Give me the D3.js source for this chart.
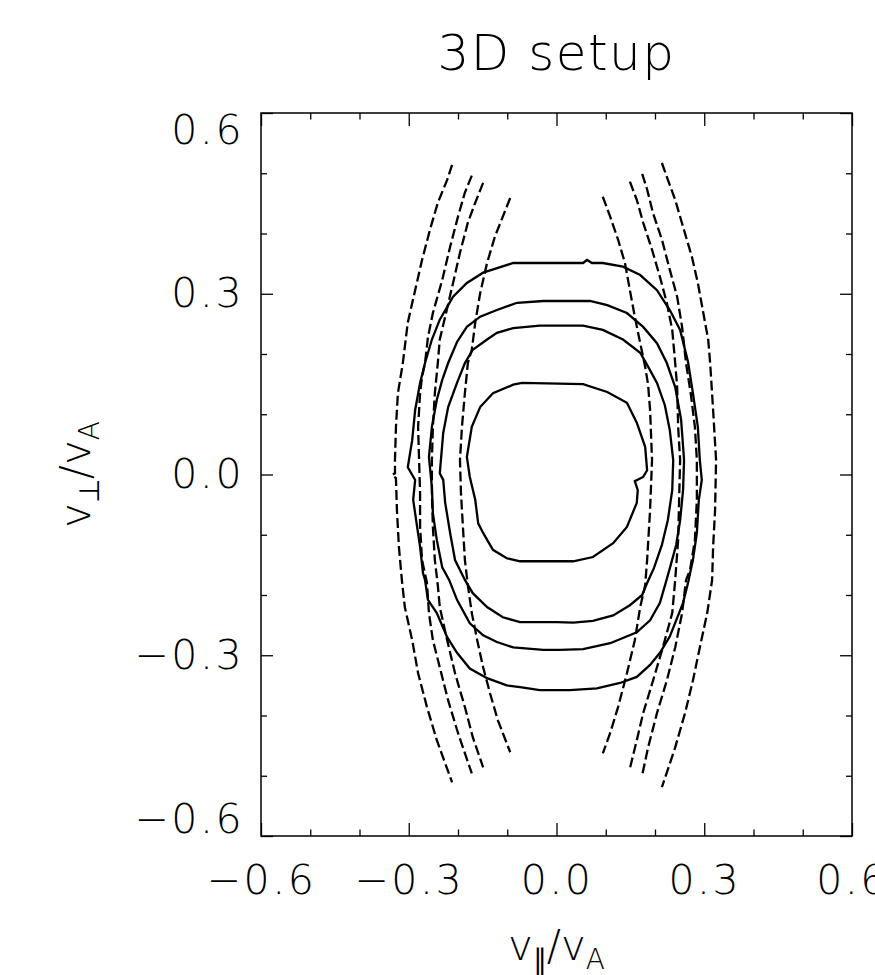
<!DOCTYPE html>
<html>
<head>
<meta charset="utf-8">
<script src="https://cdn.jsdelivr.net/npm/d3@7"></script>
<style>
  body { margin: 0; background: #fff; }
  text { font-family: "DejaVu Sans", "Liberation Sans", sans-serif; font-weight: 200; fill: #000; }
</style>
</head>
<body>
<svg id="drawing_region"></svg>
<script>
// axis ticks (v_par / v_A and v_perp / v_A)
const majorTicks = [-0.6, -0.3, 0.0, 0.3, 0.6];
const minorTicks = [-0.5, -0.4, -0.2, -0.1, 0.1, 0.2, 0.4, 0.5];

// solid contours, inner to outer, [v_par, v_perp]
const solid1 = [[-0.070,0.152],[0.054,0.150],[0.103,0.137],[0.143,0.119],[0.163,0.086],[0.180,0.046],[0.184,0.007],[0.176,-0.004],[0.159,-0.011],[0.165,-0.026],[0.163,-0.047],[0.143,-0.087],[0.115,-0.114],[0.074,-0.137],[0.034,-0.144],[-0.074,-0.144],[-0.101,-0.139],[-0.129,-0.125],[-0.149,-0.097],[-0.159,-0.081],[-0.165,-0.042],[-0.176,-0.004],[-0.182,0.029],[-0.172,0.079],[-0.155,0.112],[-0.129,0.135],[-0.088,0.149]];
const solid2 = [[-0.034,0.247],[0.054,0.247],[0.094,0.240],[0.135,0.224],[0.170,0.202],[0.186,0.179],[0.204,0.152],[0.220,0.115],[0.230,0.074],[0.237,0.024],[0.235,-0.026],[0.226,-0.076],[0.214,-0.117],[0.198,-0.155],[0.184,-0.180],[0.174,-0.200],[0.149,-0.217],[0.115,-0.234],[0.074,-0.243],[0.034,-0.246],[0.001,-0.245],[-0.074,-0.245],[-0.109,-0.237],[-0.141,-0.220],[-0.170,-0.197],[-0.186,-0.175],[-0.206,-0.142],[-0.216,-0.097],[-0.226,-0.047],[-0.230,-0.009],[-0.237,0.002],[-0.230,0.069],[-0.220,0.112],[-0.202,0.152],[-0.186,0.185],[-0.170,0.207],[-0.141,0.224],[-0.121,0.235],[-0.088,0.243]];
const solid3 = [[-0.027,0.288],[0.068,0.288],[0.103,0.281],[0.143,0.268],[0.176,0.245],[0.204,0.218],[0.224,0.185],[0.241,0.145],[0.253,0.091],[0.259,0.024],[0.257,-0.026],[0.251,-0.076],[0.243,-0.117],[0.232,-0.150],[0.222,-0.179],[0.210,-0.213],[0.190,-0.242],[0.163,-0.262],[0.109,-0.280],[0.054,-0.290],[0.007,-0.291],[-0.027,-0.291],[-0.088,-0.287],[-0.121,-0.278],[-0.149,-0.267],[-0.176,-0.247],[-0.202,-0.208],[-0.218,-0.175],[-0.232,-0.154],[-0.243,-0.109],[-0.251,-0.064],[-0.253,-0.021],[-0.259,0.029],[-0.253,0.079],[-0.243,0.124],[-0.232,0.157],[-0.220,0.185],[-0.202,0.220],[-0.182,0.245],[-0.155,0.262],[-0.121,0.273],[-0.080,0.285]];
const solid4 = [[-0.088,0.351],[0.027,0.351],[0.054,0.351],[0.062,0.356],[0.072,0.351],[0.094,0.351],[0.135,0.345],[0.170,0.331],[0.204,0.306],[0.230,0.273],[0.251,0.240],[0.267,0.187],[0.277,0.135],[0.287,0.079],[0.291,0.024],[0.295,-0.009],[0.289,-0.042],[0.285,-0.097],[0.277,-0.142],[0.267,-0.180],[0.257,-0.213],[0.230,-0.269],[0.210,-0.296],[0.190,-0.316],[0.163,-0.336],[0.129,-0.346],[0.082,-0.355],[0.027,-0.358],[-0.034,-0.358],[-0.074,-0.353],[-0.101,-0.350],[-0.141,-0.338],[-0.176,-0.322],[-0.202,-0.296],[-0.222,-0.270],[-0.243,-0.230],[-0.261,-0.208],[-0.267,-0.175],[-0.271,-0.164],[-0.277,-0.120],[-0.283,-0.087],[-0.291,-0.042],[-0.287,-0.009],[-0.302,0.012],[-0.293,0.057],[-0.287,0.107],[-0.277,0.152],[-0.267,0.185],[-0.253,0.224],[-0.237,0.257],[-0.210,0.295],[-0.182,0.318],[-0.149,0.335]];

// dashed contours (open), left group outer to inner
const dashL1 = [[-0.212,0.514],[-0.222,0.489],[-0.241,0.451],[-0.257,0.406],[-0.273,0.356],[-0.287,0.306],[-0.302,0.252],[-0.312,0.185],[-0.322,0.135],[-0.326,0.079],[-0.328,0.024],[-0.328,0.002],[-0.334,-0.001],[-0.326,-0.006],[-0.324,-0.059],[-0.320,-0.120],[-0.314,-0.175],[-0.308,-0.220],[-0.293,-0.275],[-0.281,-0.330],[-0.263,-0.386],[-0.243,-0.441],[-0.212,-0.511]];
const dashL2 = [[-0.172,0.496],[-0.186,0.468],[-0.200,0.428],[-0.216,0.378],[-0.232,0.323],[-0.251,0.268],[-0.261,0.228],[-0.267,0.185],[-0.273,0.162],[-0.277,0.135],[-0.281,0.079],[-0.279,0.024],[-0.277,-0.031],[-0.277,-0.087],[-0.273,-0.142],[-0.263,-0.180],[-0.259,-0.230],[-0.251,-0.275],[-0.237,-0.320],[-0.220,-0.375],[-0.200,-0.429],[-0.172,-0.496]];
const dashL3 = [[-0.149,0.484],[-0.165,0.451],[-0.180,0.418],[-0.196,0.368],[-0.212,0.311],[-0.226,0.262],[-0.237,0.224],[-0.241,0.185],[-0.247,0.135],[-0.251,0.079],[-0.253,0.024],[-0.253,-0.031],[-0.251,-0.087],[-0.247,-0.142],[-0.241,-0.184],[-0.237,-0.220],[-0.222,-0.275],[-0.206,-0.330],[-0.186,-0.386],[-0.170,-0.436],[-0.149,-0.486]];
const dashL4 = [[-0.094,0.459],[-0.109,0.428],[-0.125,0.395],[-0.141,0.351],[-0.155,0.301],[-0.165,0.252],[-0.172,0.207],[-0.180,0.185],[-0.186,0.135],[-0.192,0.079],[-0.196,0.024],[-0.194,-0.031],[-0.190,-0.087],[-0.186,-0.142],[-0.180,-0.184],[-0.172,-0.230],[-0.161,-0.275],[-0.149,-0.320],[-0.135,-0.363],[-0.119,-0.408],[-0.094,-0.461]];
// right group outer to inner
const dashR1 = [[0.214,0.517],[0.224,0.494],[0.241,0.456],[0.257,0.411],[0.275,0.361],[0.287,0.318],[0.297,0.273],[0.308,0.224],[0.312,0.185],[0.318,0.107],[0.324,0.024],[0.322,-0.059],[0.318,-0.120],[0.316,-0.175],[0.306,-0.230],[0.291,-0.287],[0.277,-0.342],[0.261,-0.396],[0.241,-0.453],[0.214,-0.519]];
const dashR2 = [[0.174,0.499],[0.184,0.473],[0.196,0.434],[0.214,0.390],[0.230,0.340],[0.245,0.295],[0.255,0.245],[0.263,0.185],[0.273,0.132],[0.281,0.079],[0.285,0.024],[0.285,-0.042],[0.281,-0.109],[0.271,-0.159],[0.263,-0.175],[0.255,-0.230],[0.241,-0.287],[0.224,-0.342],[0.204,-0.396],[0.186,-0.453],[0.174,-0.499]];
const dashR3 = [[0.149,0.486],[0.163,0.456],[0.176,0.418],[0.194,0.373],[0.210,0.328],[0.224,0.285],[0.235,0.240],[0.241,0.185],[0.245,0.145],[0.247,0.079],[0.251,0.024],[0.249,-0.042],[0.247,-0.109],[0.241,-0.175],[0.235,-0.230],[0.216,-0.287],[0.196,-0.342],[0.176,-0.396],[0.163,-0.441],[0.149,-0.488]];
const dashR4 = [[0.094,0.461],[0.109,0.428],[0.125,0.390],[0.139,0.351],[0.149,0.306],[0.159,0.262],[0.170,0.218],[0.180,0.179],[0.186,0.149],[0.190,0.107],[0.194,0.024],[0.190,-0.059],[0.184,-0.142],[0.180,-0.184],[0.170,-0.220],[0.159,-0.275],[0.143,-0.330],[0.125,-0.386],[0.109,-0.429],[0.094,-0.463]];

const solidContours = [solid1, solid2, solid3, solid4];
const dashedContours = [dashL1, dashL2, dashL3, dashL4, dashR1, dashR2, dashR3, dashR4];

const config = {
    parent: '#drawing_region',
    width: 875,
    height: 975,
    margin: {top: 113, right: 23, bottom: 139, left: 261}
};

const svg = d3.select(config.parent)
    .attr('width', config.width)
    .attr('height', config.height);

const inner_width = config.width - config.margin.left - config.margin.right;
const inner_height = config.height - config.margin.top - config.margin.bottom;

const xscale = d3.scaleLinear().domain([-0.6, 0.6]).range([0, inner_width]);
const yscale = d3.scaleLinear().domain([-0.6, 0.6]).range([inner_height, 0]);

const chart = svg.append('g')
    .attr('transform', `translate(${config.margin.left}, ${config.margin.top})`);

const fmt = d3.format('.1f');

// axes on all four sides, ticks pointing inward
const xLen = 13, yLen = 12;
const axes = [
    {axis: d3.axisBottom(xscale), len: xLen, pos: `translate(0, ${inner_height})`, label: true, pad: 29, side: 'x'},
    {axis: d3.axisTop(xscale), len: xLen, pos: 'translate(0, 0)', label: false, pad: 0, side: 'x'},
    {axis: d3.axisLeft(yscale), len: yLen, pos: 'translate(0, 0)', label: true, pad: 17, side: 'y'},
    {axis: d3.axisRight(yscale), len: yLen, pos: `translate(${inner_width}, 0)`, label: false, pad: 0, side: 'y'}
];

axes.forEach(a => {
    const major = a.axis.tickValues(majorTicks)
        .tickSizeInner(-a.len)
        .tickSizeOuter(0)
        .tickPadding(a.pad)
        .tickFormat(a.label ? fmt : '');
    const g = chart.append('g').attr('transform', a.pos).call(major);
    g.select('.domain').remove();
    g.selectAll('line').attr('stroke', '#000').attr('stroke-width', 1.3);
    g.selectAll('text').attr('font-size', 41).attr('fill', '#000')
        .attr('letter-spacing', 2.5)
        .style('font-family', '"DejaVu Sans", sans-serif');
    // end labels of the vertical axis sit inside the axis range
    if (a.side === 'y' && a.label) {
        g.selectAll('.tick text')
            .filter(d => Math.abs(d) > 0.5)
            .attr('y', d => d > 0 ? 17 : -17);
    }

    const minorAxis = a.axis.tickValues(minorTicks).tickSizeInner(-a.len / 2).tickFormat('');
    const gm = chart.append('g').attr('transform', a.pos).call(minorAxis);
    gm.select('.domain').remove();
    gm.selectAll('line').attr('stroke', '#000').attr('stroke-width', 1.3);
});

// frame
chart.append('rect')
    .attr('x', 0).attr('y', 0)
    .attr('width', inner_width).attr('height', inner_height)
    .attr('fill', 'none')
    .attr('stroke', '#000')
    .attr('stroke-width', 1.5);

const line = d3.line()
    .x(d => xscale(d[0]))
    .y(d => yscale(d[1]));

chart.selectAll('.solid')
    .data(solidContours)
    .enter()
    .append('path')
    .attr('class', 'solid')
    .attr('d', d => line.curve(d3.curveLinearClosed)(d))
    .attr('fill', 'none')
    .attr('stroke', '#000')
    .attr('stroke-width', 2.3);

chart.selectAll('.dashed')
    .data(dashedContours)
    .enter()
    .append('path')
    .attr('class', 'dashed')
    .attr('d', d => line.curve(d3.curveLinear)(d))
    .attr('fill', 'none')
    .attr('stroke', '#000')
    .attr('stroke-width', 2.3)
    .attr('stroke-dasharray', '10,4');

// title
svg.append('text')
    .attr('x', config.margin.left + inner_width / 2)
    .attr('y', 70)
    .attr('text-anchor', 'middle')
    .attr('font-size', 50)
    .attr('letter-spacing', 1.5)
    .text('3D setup');

// x axis title
const xt = svg.append('text')
    .attr('x', config.margin.left + inner_width / 2)
    .attr('y', 960)
    .attr('text-anchor', 'middle')
    .attr('font-size', 42);
xt.append('tspan').text('v');
xt.append('tspan').attr('font-size', 28).attr('dy', 9).text('\u2225');
xt.append('tspan').attr('dy', -9).text('/');
xt.append('tspan').text('v');
xt.append('tspan').attr('font-size', 28).attr('dy', 9).text('A');

// y axis title
const yt = svg.append('text')
    .attr('transform', `translate(90, ${config.margin.top + inner_height / 2}) rotate(-90)`)
    .attr('text-anchor', 'middle')
    .attr('font-size', 42);
yt.append('tspan').text('v');
yt.append('tspan').attr('font-size', 28).attr('dy', 9).text('\u22A5');
yt.append('tspan').attr('dy', -9).text('/');
yt.append('tspan').text('v');
yt.append('tspan').attr('font-size', 28).attr('dy', 9).text('A');
</script>
</body>
</html>
